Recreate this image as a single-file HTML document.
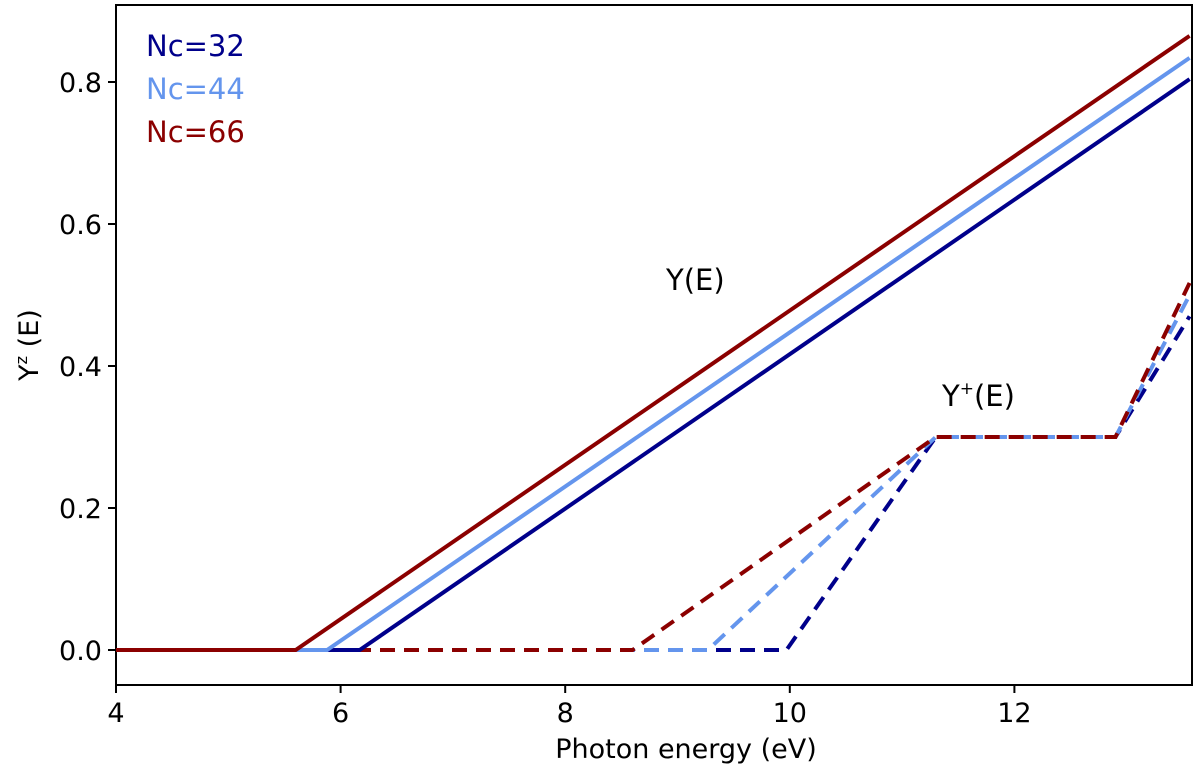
<!DOCTYPE html>
<html><head><meta charset="utf-8"><style>
body{margin:0;background:#fff;}
svg text{font-family:"DejaVu Sans","Liberation Sans",sans-serif;}
</style></head><body>
<svg id="chart" width="1200" height="774" viewBox="0 0 1200 774">
<rect x="116" y="5" width="1076" height="680" fill="none" stroke="#000" stroke-width="2"/>
<g id="ticks"></g>
<g id="series"></g>
<text x="686" y="758" font-size="27" text-anchor="middle">Photon energy (eV)</text>
<text transform="translate(38,345) rotate(-90)" font-size="27" text-anchor="middle">Y<tspan font-size="16" dy="-11">z</tspan><tspan dy="11"> (E)</tspan></text>
<text x="666" y="290" font-size="29">Y(E)</text>
<text x="942" y="406" font-size="29">Y<tspan font-size="17" dy="-12">+</tspan><tspan dy="12">(E)</tspan></text>
<text x="146" y="56" font-size="29" fill="#00008b">Nc=32</text>
<text x="146" y="99" font-size="29" fill="#6495ed">Nc=44</text>
<text x="146" y="142" font-size="29" fill="#8b0000">Nc=66</text>
</svg>
<script>
const xTicks=[4,6,8,10,12];
const yTicks=[0.0,0.2,0.4,0.6,0.8];
const seriesNames=['Nc=32','Nc=44','Nc=66'];
const solidOnset=[6.17,5.88,5.60];
const solidEnd=[0.804,0.834,0.865];
const dashedOnset=[9.97,9.27,8.60];
const dashedEnd=[0.47,0.50,0.517];
const plateauStart=11.3, plateauEnd=12.9, plateauValue=0.3;
const xMin=4, xMax=13.56;
const colors=['#00008b','#6495ed','#8b0000'];
function X(v){return 116+(v-4)*112.3;}
function Y(v){return 650-v*710;}
const NS='http://www.w3.org/2000/svg';
const tg=document.getElementById('ticks'), sg=document.getElementById('series');
function mk(tag,attrs,parent){const e=document.createElementNS(NS,tag);for(const k in attrs)e.setAttribute(k,attrs[k]);parent.appendChild(e);return e;}
xTicks.forEach(t=>{
  const l=mk('line',{x1:X(t),x2:X(t),y1:685,y2:693,stroke:'#000','stroke-width':2},tg);
  
  
  const tx=mk('text',{x:X(t),y:722,'font-size':27,'text-anchor':'middle'},tg);tx.textContent=t;
  
  
});
yTicks.forEach(t=>{
  const l=mk('line',{x1:108,x2:116,y1:Y(t),y2:Y(t),stroke:'#000','stroke-width':2},tg);
  
  
  const tx=mk('text',{x:102,y:Y(t)+10,'font-size':27,'text-anchor':'end'},tg);tx.textContent=t.toFixed(1);
  
  
});
for(let i=0;i<3;i++){
  const d='M'+X(xMin)+','+Y(0)+' L'+X(dashedOnset[i])+','+Y(0)+' L'+X(plateauStart)+','+Y(plateauValue)+' L'+X(plateauEnd)+','+Y(plateauValue)+' L'+X(xMax)+','+Y(dashedEnd[i]);
  const p=mk('path',{d:d,fill:'none',stroke:colors[i],'stroke-width':4,'stroke-dasharray':'15,9'},sg);
  
  
}
for(let i=0;i<3;i++){
  const d='M'+X(xMin)+','+Y(0)+' L'+X(solidOnset[i])+','+Y(0)+' L'+X(xMax)+','+Y(solidEnd[i]);
  const p=mk('path',{d:d,fill:'none',stroke:colors[i],'stroke-width':4},sg);
  
  
}
</script>
</body></html>
